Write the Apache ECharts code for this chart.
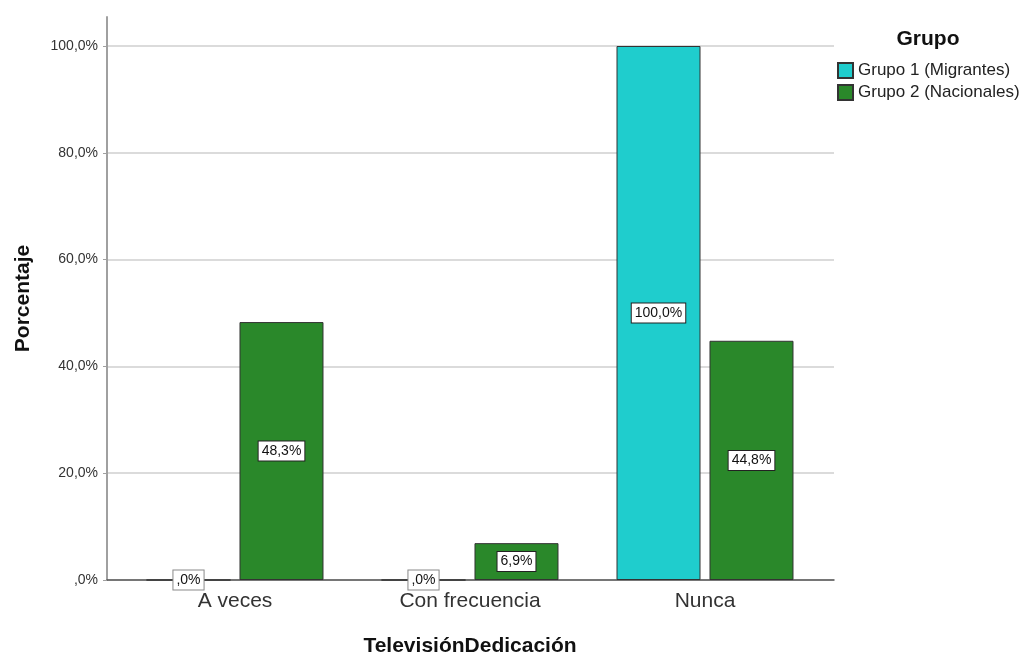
<!DOCTYPE html>
<html>
<head>
<meta charset="utf-8">
<script src="https://cdn.jsdelivr.net/npm/echarts@6/dist/echarts.min.js"></script>
<style>
  html, body { margin: 0; padding: 0; background: #fff; }
  #chart { width: 1022px; height: 653px; }
</style>
</head>
<body>
<div id="chart"></div>
<script>
// Porcentaje por grupo según dedicación a la televisión
const categories = ['A veces', 'Con frecuencia', 'Nunca'];
const seriesNames = ['Grupo 1 (Migrantes)', 'Grupo 2 (Nacionales)'];
const migrantes = [0, 0, 100];
const nacionales = [48.3, 6.9, 44.8];
const yTicks = [0, 20, 40, 60, 80, 100];

const FONT = '"Liberation Sans", Arial, sans-serif';
const colors = ['#1fcdcd', '#2a882a'];

function pct(v) {
  const s = v.toFixed(1).replace('.', ',');
  return (s.startsWith('0') ? s.slice(1) : s) + '%';
}

function barData(values) {
  return values.map(v => ({
    value: v,
    label: v === 0 ? { borderColor: '#8a8a8a' } : {}
  }));
}

const chart = echarts.init(document.getElementById('chart'), null, { renderer: 'canvas' });

const left = 107, right = 1022 - 834, bottom = 653 - 580;

chart.setOption({
  backgroundColor: '#ffffff',
  animation: false,
  textStyle: { fontFamily: FONT },
  title: {
    text: 'Grupo',
    left: 928,
    top: 29,
    padding: 0,
    textAlign: 'center',
    textStyle: { fontFamily: FONT, fontSize: 21, fontWeight: 'bold', color: '#111' }
  },
  legend: {
    data: seriesNames,
    orient: 'vertical',
    left: 837,
    top: 62,
    padding: 0,
    itemWidth: 15,
    itemHeight: 15,
    itemGap: 5,
    icon: 'rect',
    textStyle: { fontFamily: FONT, fontSize: 17, color: '#222' }
  },
  grid: [
    // full-height frame for the vertical axis line
    { left: left, right: right, top: 17, bottom: bottom, outerBoundsMode: 'none' },
    // scale, ticks and grid lines
    { left: left, right: right, top: 46, bottom: bottom, outerBoundsMode: 'none' },
    // bars
    { left: 117.5, right: 1022 - 822.5, top: 46, bottom: bottom, outerBoundsMode: 'none' }
  ],
  xAxis: [
    { gridIndex: 0, type: 'category', data: categories, show: false },
    {
      gridIndex: 1, type: 'category', data: categories,
      axisLine: { show: true, lineStyle: { color: '#555', width: 1.5 } },
      axisTick: { show: false }, axisLabel: { show: false }, splitLine: { show: false }
    },
    {
      gridIndex: 2, type: 'category', data: categories,
      axisLine: { show: false }, axisTick: { show: false },
      axisLabel: { fontFamily: FONT, fontSize: 21, color: '#333', margin: 11 },
      name: 'TelevisiónDedicación',
      nameLocation: 'middle',
      nameGap: 56,
      nameTextStyle: { fontFamily: FONT, fontSize: 21, fontWeight: 'bold', color: '#111' }
    }
  ],
  yAxis: [
    {
      gridIndex: 0, type: 'value', min: 0, max: 105.4,
      axisLine: { show: true, lineStyle: { color: '#a0a0a0', width: 2 } },
      axisTick: { show: false }, axisLabel: { show: false }, splitLine: { show: false },
      name: 'Porcentaje',
      nameLocation: 'middle',
      nameGap: 73,
      nameTextStyle: { fontFamily: FONT, fontSize: 21, fontWeight: 'bold', color: '#111' }
    },
    {
      gridIndex: 1, type: 'value',
      min: yTicks[0], max: yTicks[yTicks.length - 1], interval: 20,
      axisLine: { show: false },
      axisTick: { show: true, length: 4, lineStyle: { color: '#a0a0a0', width: 1 } },
      axisLabel: { fontFamily: FONT, fontSize: 14, color: '#333', margin: 9, formatter: v => pct(v) },
      splitLine: { show: true, lineStyle: { color: '#cfcfcf', width: 1.5 } }
    },
    { gridIndex: 2, type: 'value', min: 0, max: 100, show: false }
  ],
  series: [
    { name: seriesNames[0], data: migrantes },
    { name: seriesNames[1], data: nacionales }
  ].map((s, i) => ({
    type: 'bar',
    name: s.name,
    xAxisIndex: 2,
    yAxisIndex: 2,
    data: barData(s.data),
    barWidth: 84,
    barGap: '10.7%',
    itemStyle: { color: colors[i], borderColor: '#333', borderWidth: 1 },
    label: {
      show: true,
      position: 'inside',
      formatter: p => pct(p.value),
      fontFamily: FONT,
      fontSize: 14,
      color: '#111',
      backgroundColor: '#fff',
      borderColor: '#222',
      borderWidth: 1,
      padding: [3, 3, 2, 3]
    }
  }))
});
</script>
</body>
</html>
